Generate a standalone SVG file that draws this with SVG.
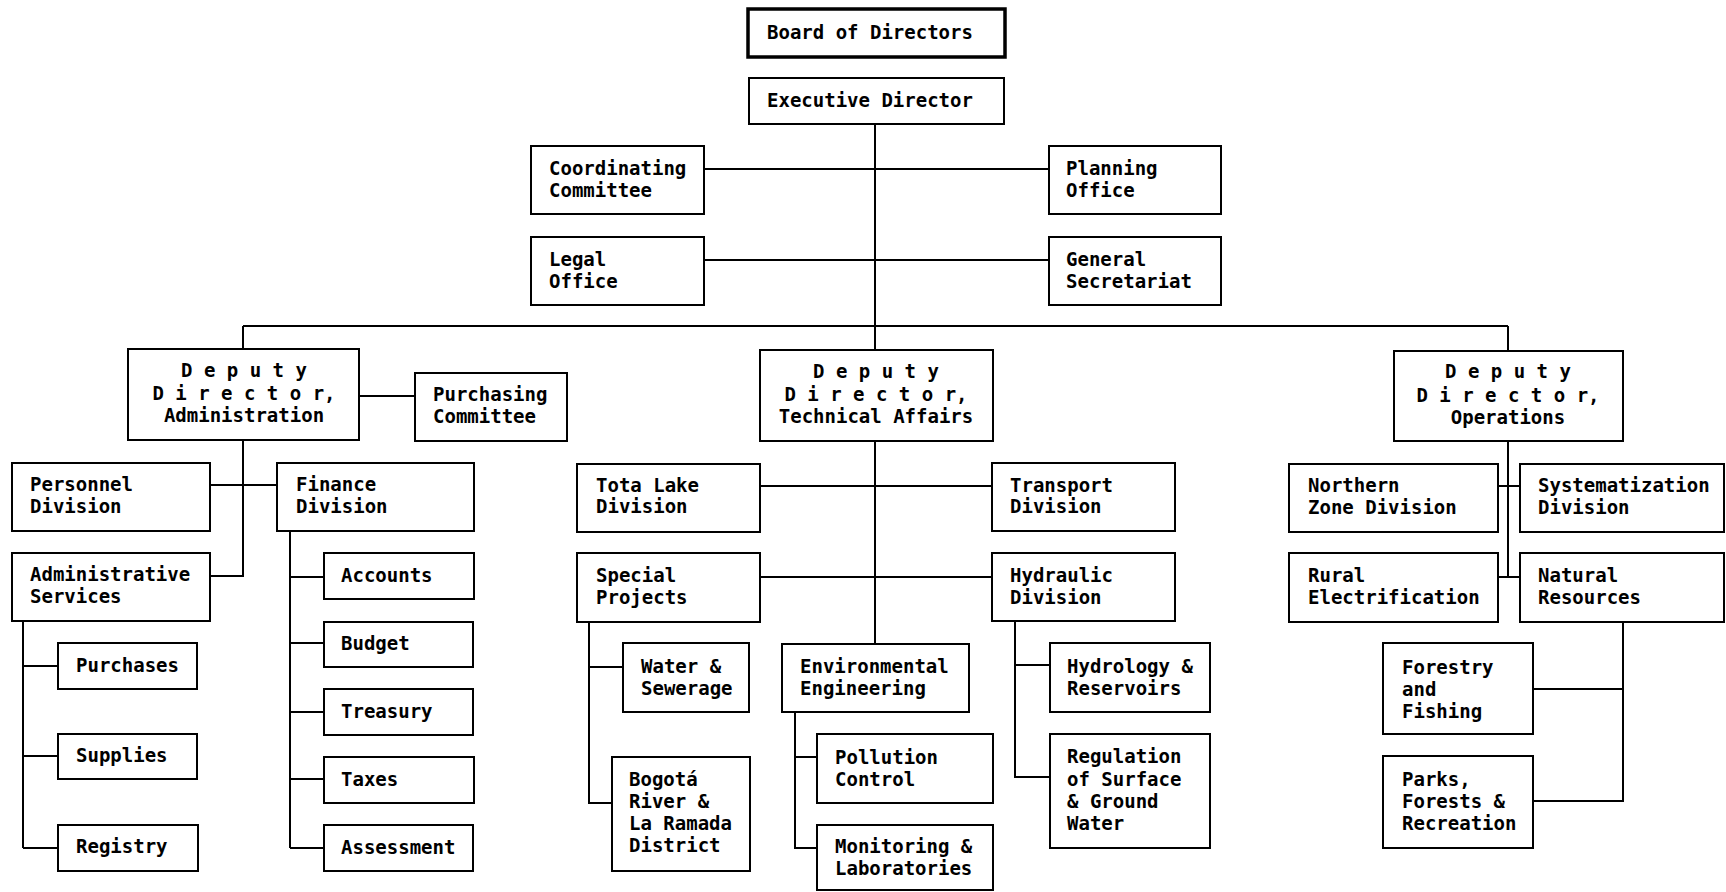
<svg xmlns="http://www.w3.org/2000/svg" width="1726" height="892" viewBox="0 0 1726 892">
<style>
rect{fill:#fff;stroke:#000;stroke-width:2}
rect.thick{stroke-width:3.5}
text{font-family:"DejaVu Sans Mono","Liberation Mono",monospace;font-weight:bold;font-size:19px;fill:#000}
text.c{text-anchor:middle}
#connectors path{fill:none;stroke:#000;stroke-width:2}
</style>
<rect x="0" y="0" width="1726" height="892" style="fill:#fff;stroke:none"/>
<g id="connectors">
<path d="M875 124V350M704 169H1049M704 260H1049M243 326H1508M243 326V349M1508 326V351"/>
<path d="M359 396H415M243 440V576H210M210 485H277"/>
<path d="M23 621V848M23 666H58M23 756H58M23 848H58"/>
<path d="M290 531V848M290 577H324M290 643H324M290 712H324M290 779H324M290 848H324"/>
<path d="M875 441V644M760 486H992M760 577H992"/>
<path d="M589 622V803H612M589 667H623"/>
<path d="M795 712V848H817M795 757H817"/>
<path d="M1015 621V777H1050M1015 665H1050"/>
<path d="M1508 441V577M1498 486H1520M1498 577H1520"/>
<path d="M1623 622V801H1533M1623 689H1533"/>
</g>
<g id="board"><rect class="thick" x="748" y="9" width="257" height="48"/><text x="767" y="39">Board of Directors</text></g>
<g id="exec"><rect x="749" y="78" width="255" height="46"/><text x="767" y="107">Executive Director</text></g>
<g id="coord"><rect x="531" y="146" width="173" height="68"/><text x="549" y="175">Coordinating</text><text x="549" y="197">Committee</text></g>
<g id="planning"><rect x="1049" y="146" width="172" height="68"/><text x="1066" y="175">Planning</text><text x="1066" y="197">Office</text></g>
<g id="legal"><rect x="531" y="237" width="173" height="68"/><text x="549" y="266">Legal</text><text x="549" y="288">Office</text></g>
<g id="secretariat"><rect x="1049" y="237" width="172" height="68"/><text x="1066" y="266">General</text><text x="1066" y="288">Secretariat</text></g>
<g id="dd-admin"><rect x="128" y="349" width="231" height="91"/><text class="c" x="244" y="377">D e p u t y</text><text class="c" x="244" y="400">D i r e c t o r,</text><text class="c" x="244" y="422">Administration</text></g>
<g id="purchasing-committee"><rect x="415" y="373" width="152" height="68"/><text x="433" y="401">Purchasing</text><text x="433" y="423">Committee</text></g>
<g id="personnel"><rect x="12" y="463" width="198" height="68"/><text x="30" y="491">Personnel</text><text x="30" y="513">Division</text></g>
<g id="finance"><rect x="277" y="463" width="197" height="68"/><text x="296" y="491">Finance</text><text x="296" y="513">Division</text></g>
<g id="admin-services"><rect x="12" y="553" width="198" height="68"/><text x="30" y="581">Administrative</text><text x="30" y="603">Services</text></g>
<g id="purchases"><rect x="58" y="643" width="139" height="46"/><text x="76" y="672">Purchases</text></g>
<g id="supplies"><rect x="58" y="734" width="139" height="45"/><text x="76" y="762">Supplies</text></g>
<g id="registry"><rect x="58" y="825" width="140" height="46"/><text x="76" y="853">Registry</text></g>
<g id="accounts"><rect x="324" y="553" width="150" height="46"/><text x="341" y="582">Accounts</text></g>
<g id="budget"><rect x="324" y="622" width="149" height="45"/><text x="341" y="650">Budget</text></g>
<g id="treasury"><rect x="324" y="689" width="149" height="46"/><text x="341" y="718">Treasury</text></g>
<g id="taxes"><rect x="324" y="757" width="150" height="46"/><text x="341" y="786">Taxes</text></g>
<g id="assessment"><rect x="324" y="825" width="149" height="46"/><text x="341" y="854">Assessment</text></g>
<g id="dd-tech"><rect x="760" y="350" width="233" height="91"/><text class="c" x="876" y="378">D e p u t y</text><text class="c" x="876" y="401">D i r e c t o r,</text><text class="c" x="876" y="423">Technical Affairs</text></g>
<g id="tota"><rect x="577" y="464" width="183" height="68"/><text x="596" y="492">Tota Lake</text><text x="596" y="513">Division</text></g>
<g id="transport"><rect x="992" y="463" width="183" height="68"/><text x="1010" y="492">Transport</text><text x="1010" y="513">Division</text></g>
<g id="special"><rect x="577" y="553" width="183" height="69"/><text x="596" y="582">Special</text><text x="596" y="604">Projects</text></g>
<g id="hydraulic"><rect x="992" y="553" width="183" height="68"/><text x="1010" y="582">Hydraulic</text><text x="1010" y="604">Division</text></g>
<g id="water"><rect x="623" y="643" width="126" height="69"/><text x="641" y="673">Water &amp;</text><text x="641" y="695">Sewerage</text></g>
<g id="bogota"><rect x="612" y="757" width="138" height="114"/><text x="629" y="786">Bogotá</text><text x="629" y="808">River &amp;</text><text x="629" y="830">La Ramada</text><text x="629" y="852">District</text></g>
<g id="env"><rect x="782" y="644" width="187" height="68"/><text x="800" y="673">Environmental</text><text x="800" y="695">Engineering</text></g>
<g id="pollution"><rect x="817" y="734" width="176" height="69"/><text x="835" y="764">Pollution</text><text x="835" y="786">Control</text></g>
<g id="monitoring"><rect x="817" y="825" width="176" height="65"/><text x="835" y="853">Monitoring &amp;</text><text x="835" y="875">Laboratories</text></g>
<g id="hydrology"><rect x="1050" y="643" width="160" height="69"/><text x="1067" y="673">Hydrology &amp;</text><text x="1067" y="695">Reservoirs</text></g>
<g id="regulation"><rect x="1050" y="734" width="160" height="114"/><text x="1067" y="763">Regulation</text><text x="1067" y="786">of Surface</text><text x="1067" y="808">&amp; Ground</text><text x="1067" y="830">Water</text></g>
<g id="dd-ops"><rect x="1394" y="351" width="229" height="90"/><text class="c" x="1508" y="378">D e p u t y</text><text class="c" x="1508" y="402">D i r e c t o r,</text><text class="c" x="1508" y="424">Operations</text></g>
<g id="northern"><rect x="1289" y="464" width="209" height="68"/><text x="1308" y="492">Northern</text><text x="1308" y="514">Zone Division</text></g>
<g id="systematization"><rect x="1520" y="464" width="204" height="68"/><text x="1538" y="492">Systematization</text><text x="1538" y="514">Division</text></g>
<g id="rural"><rect x="1289" y="553" width="209" height="69"/><text x="1308" y="582">Rural</text><text x="1308" y="604">Electrification</text></g>
<g id="natural"><rect x="1520" y="553" width="204" height="69"/><text x="1538" y="582">Natural</text><text x="1538" y="604">Resources</text></g>
<g id="forestry"><rect x="1383" y="643" width="150" height="91"/><text x="1402" y="674">Forestry</text><text x="1402" y="696">and</text><text x="1402" y="718">Fishing</text></g>
<g id="parks"><rect x="1383" y="756" width="150" height="92"/><text x="1402" y="786">Parks,</text><text x="1402" y="808">Forests &amp;</text><text x="1402" y="830">Recreation</text></g>
</svg>
